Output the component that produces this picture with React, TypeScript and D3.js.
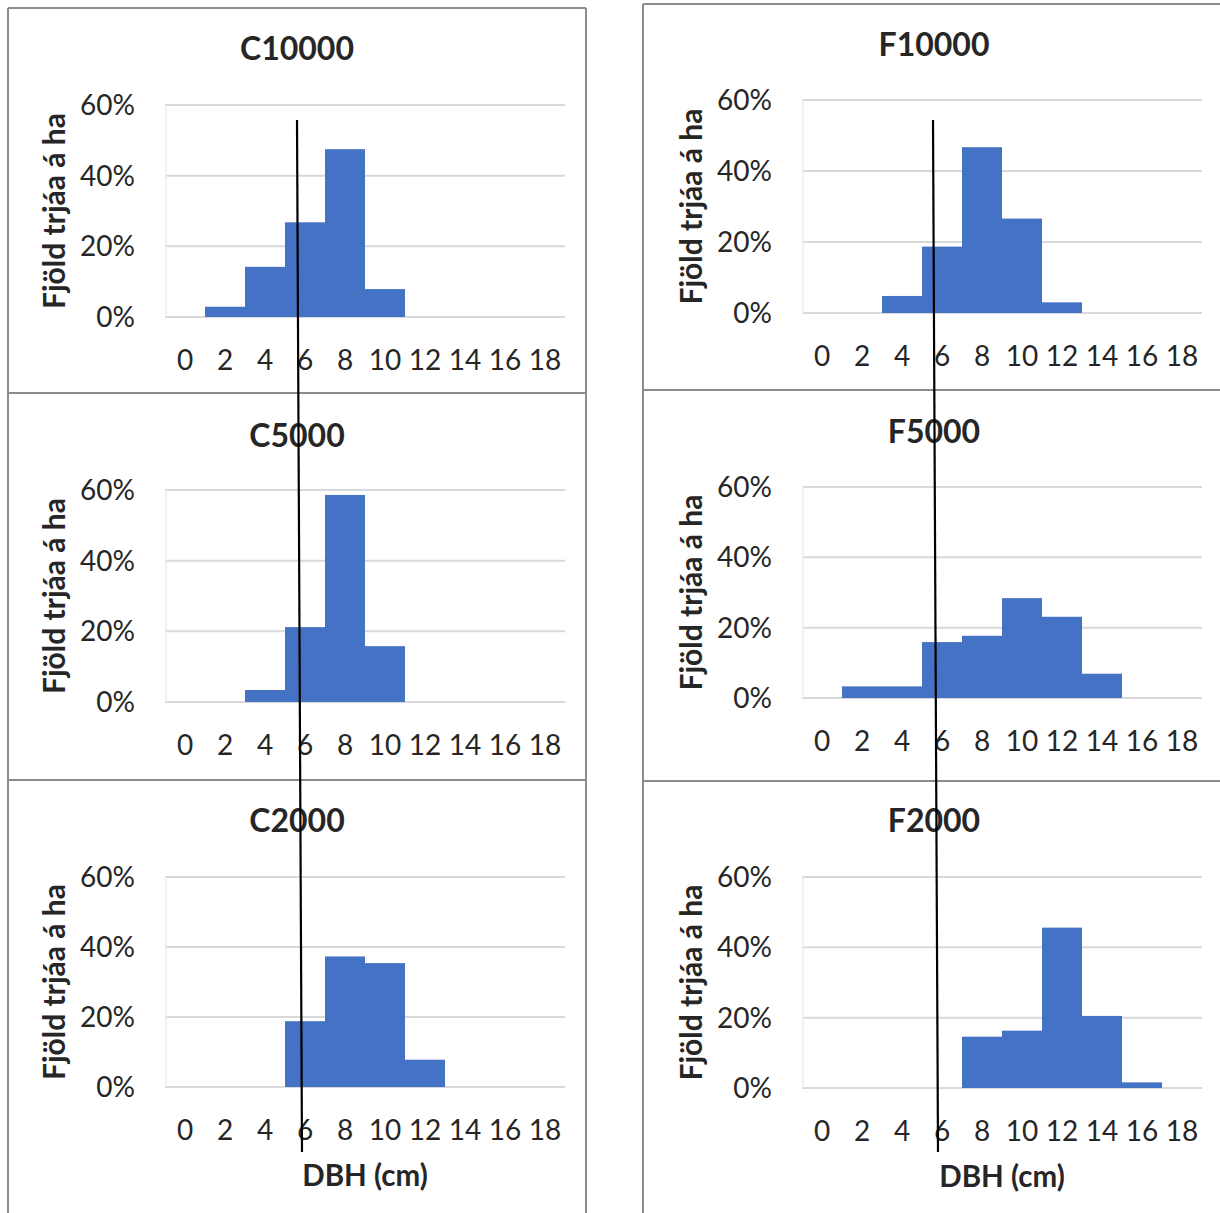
import React from "react";
import * as d3 from "d3";

// ---- data ----
const categories = ["0", "2", "4", "6", "8", "10", "12", "14", "16", "18"];
const yTicks = [0, 0.2, 0.4, 0.6];
const titles = ["C10000", "F10000", "C5000", "F5000", "C2000", "F2000"];
const c10000 = [0, 0.029, 0.142, 0.268, 0.475, 0.079, 0, 0, 0, 0];
const f10000 = [0, 0, 0.048, 0.187, 0.467, 0.266, 0.03, 0, 0, 0];
const c5000 = [0, 0, 0.034, 0.212, 0.586, 0.158, 0, 0, 0, 0];
const f5000 = [0, 0.033, 0.033, 0.159, 0.177, 0.284, 0.231, 0.069, 0, 0];
const c2000 = [0, 0, 0, 0.188, 0.373, 0.354, 0.078, 0, 0, 0];
const f2000 = [0, 0, 0, 0, 0.146, 0.163, 0.456, 0.205, 0.016, 0];
const seriesList = [c10000, f10000, c5000, f5000, c2000, f2000];
const yAxisTitle = "Fjöld trjáa á ha";
const xAxisTitle = "DBH (cm)";

// ---- layout ----
const W = 1220;
const H = 1213;
const FONT = "Lato, 'Open Sans', sans-serif";
const BAR = "#4472C4";
const GRID = "#d9d9d9";
const BORDER = "#8c8c8c";
const TEXT = "#262626";

const layouts = [
  { left: 165, zero: 317, top: 105, titleY: 60, showX: false },
  { left: 802, zero: 313, top: 100, titleY: 56, showX: false },
  { left: 165, zero: 702, top: 490, titleY: 447, showX: false },
  { left: 802, zero: 698, top: 487, titleY: 443, showX: false },
  { left: 165, zero: 1087, top: 877, titleY: 832, showX: true },
  { left: 802, zero: 1088, top: 877, titleY: 832, showX: true },
];
const plotW = 400;

function Panel({ idx }: { idx: number }) {
  const L = layouts[idx];
  const values = seriesList[idx];
  const x = d3.scaleBand<string>().domain(categories).range([L.left, L.left + plotW]).padding(0);
  const y = d3.scaleLinear().domain([0, 0.6]).range([L.zero, L.top]);
  const fmt = d3.format(".0%");
  return (
    <g>
      {yTicks.map((t) => (
        <line key={"g" + t} x1={L.left} x2={L.left + plotW} y1={y(t)} y2={y(t)} stroke={GRID} strokeWidth={2} />
      ))}
      <line x1={L.left + 1} x2={L.left + 1} y1={y(0.6)} y2={y(0)} stroke="#ececec" strokeWidth={1.5} />
      {values.map((v, i) =>
        v > 0 ? (
          <rect
            key={"b" + i}
            x={x(categories[i])}
            y={y(v)}
            width={x.bandwidth()}
            height={y(0) - y(v)}
            fill={BAR}
          />
        ) : null
      )}
      {yTicks.map((t) => (
        <text
          key={"y" + t}
          x={L.left - 30}
          y={y(t)}
          dy="0.36em"
          textAnchor="end"
          fontFamily={FONT}
          fontSize={28}
          fill={TEXT}
        >
          {fmt(t)}
        </text>
      ))}
      {categories.map((c) => (
        <text
          key={"x" + c}
          x={(x(c) as number) + x.bandwidth() / 2}
          y={L.zero + 43}
          dy="0.36em"
          textAnchor="middle"
          fontFamily={FONT}
          fontSize={28}
          fill={TEXT}
        >
          {c}
        </text>
      ))}
      <text
        transform={`translate(${L.left - 111},${(y(0) + y(0.6)) / 2}) rotate(-90)`}
        textAnchor="middle"
        dy="0.36em"
        fontFamily={FONT}
        fontWeight="bold"
        fontSize={30}
        fill={TEXT}
      >
        {yAxisTitle}
      </text>
      <text
        x={L.left + 132}
        y={L.titleY}
        textAnchor="middle"
        fontFamily={FONT}
        fontWeight="bold"
        fontSize={32}
        fill={TEXT}
      >
        {titles[idx]}
      </text>
      {L.showX ? (
        <text
          x={L.left + 200}
          y={L.zero + 88}
          dy="0.36em"
          textAnchor="middle"
          fontFamily={FONT}
          fontWeight="bold"
          fontSize={29.5}
          fill={TEXT}
        >
          {xAxisTitle}
        </text>
      ) : null}
    </g>
  );
}

export default function App() {
  return (
    <div style={{ position: "absolute", left: 0, top: 0 }}>
      <svg width={W} height={H} style={{ display: "block", background: "#fff" }}>
        <rect x={0} y={0} width={W} height={H} fill="#fff" />
        {/* frames */}
        <g stroke={BORDER} strokeWidth={2} fill="none">
          <line x1={8} x2={586} y1={8} y2={8} />
          <line x1={8} x2={8} y1={8} y2={H} />
          <line x1={586} x2={586} y1={8} y2={H} />
          <line x1={8} x2={586} y1={393} y2={393} />
          <line x1={8} x2={586} y1={780} y2={780} />
          <line x1={643} x2={W} y1={4} y2={4} />
          <line x1={643} x2={643} y1={4} y2={H} />
          <line x1={643} x2={W} y1={390} y2={390} />
          <line x1={643} x2={W} y1={781} y2={781} />
        </g>
        {layouts.map((_, i) => (
          <Panel key={i} idx={i} />
        ))}
        {/* scan marks */}
        <line x1={297} y1={120} x2={302} y2={1152} stroke="#000" strokeWidth={2.2} />
        <line x1={933} y1={120} x2={938} y2={1152} stroke="#000" strokeWidth={2.2} />
      </svg>
    </div>
  );
}
